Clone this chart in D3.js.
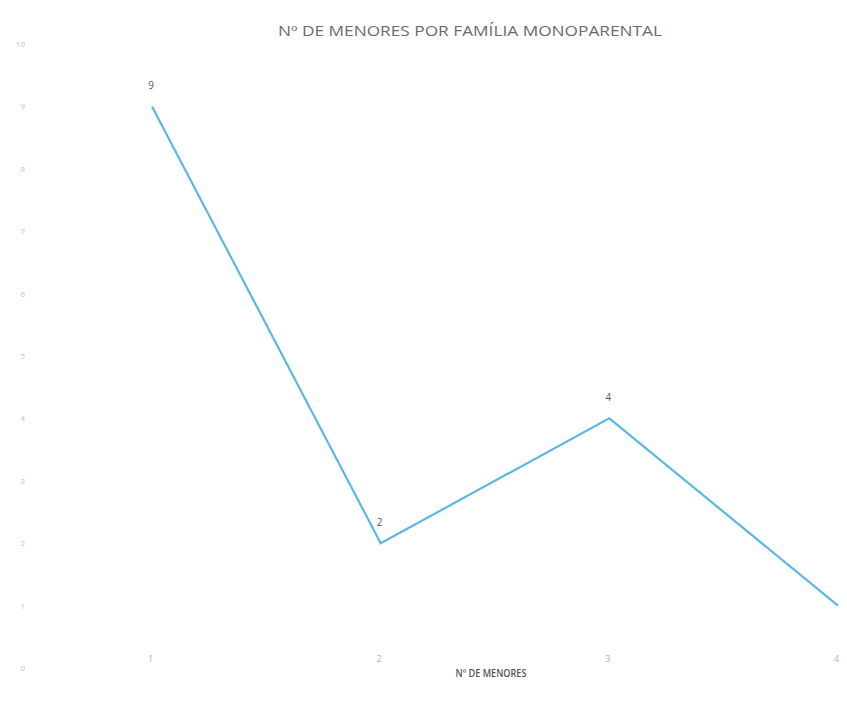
<!DOCTYPE html>
<html>
<head>
<meta charset="utf-8">
<script src="https://cdn.jsdelivr.net/npm/d3@7"></script>
<style>
  html, body { margin: 0; padding: 0; background: #fff; }
  svg { display: block; }
</style>
</head>
<body>
<svg id="chart" width="847" height="707"></svg>
<script>
// Number of children per single-parent family
const categories = [1, 2, 3, 4];
const values = [9, 2, 4, 1];
const labelled = [true, true, true, false];
const yTicks = [0, 1, 2, 3, 4, 5, 6, 7, 8, 9, 10];
const title = "Nº DE MENORES POR FAMÍLIA MONOPARENTAL";
const xTitle = "Nº DE MENORES";

const svg = d3.select("#chart");
const font = "'Open Sans', 'Liberation Sans', sans-serif";

const x = d3.scaleLinear().domain([1, 4]).range([152, 838]);
const y = d3.scaleLinear().domain([0, 10]).range([668, 44]);

// Title
svg.append("text")
  .attr("x", 470).attr("y", 36)
  .attr("text-anchor", "middle")
  .attr("font-family", font)
  .attr("font-size", 14)
  .attr("fill", "#6a6a6a")
  .attr("textLength", 384)
  .attr("lengthAdjust", "spacingAndGlyphs")
  .text(title);

// Y axis (labels only)
const yAxis = d3.axisLeft(y).tickValues(yTicks).tickFormat(d3.format("d")).tickSize(0).tickPadding(0);
svg.append("g")
  .attr("transform", "translate(25,0)")
  .call(yAxis)
  .call(g => g.select(".domain").remove())
  .call(g => g.selectAll("text")
    .attr("font-family", font)
    .attr("font-size", 8)
    .attr("fill", "#c4c4c4"));

// X axis (labels only)
const xAxis = d3.axisBottom(x).tickValues(categories).tickFormat(d3.format("d")).tickSize(0).tickPadding(0);
svg.append("g")
  .attr("transform", "translate(-2,656)")
  .call(xAxis)
  .call(g => g.select(".domain").remove())
  .call(g => g.selectAll("text")
    .attr("font-family", font)
    .attr("font-size", 9)
    .attr("fill", "#b0b0b0"));

// X axis title
svg.append("text")
  .attr("x", 491).attr("y", 677)
  .attr("text-anchor", "middle")
  .attr("font-family", font)
  .attr("font-size", 10)
  .attr("font-weight", 600)
  .attr("fill", "#555")
  .attr("textLength", 71)
  .attr("lengthAdjust", "spacingAndGlyphs")
  .text(xTitle);

// Line
const line = d3.line()
  .x((d, i) => x(categories[i]))
  .y(d => y(d));

svg.append("path")
  .datum(values)
  .attr("d", line)
  .attr("fill", "none")
  .attr("stroke", "#5bb8e0")
  .attr("stroke-width", 2.2)
  .attr("stroke-linejoin", "miter");

// Data labels
svg.selectAll("text.dl")
  .data(values.map((v, i) => ({ v, c: categories[i], show: labelled[i] })).filter(d => d.show))
  .enter().append("text")
  .attr("class", "dl")
  .attr("x", d => x(d.c) - 1)
  .attr("y", d => y(d.v) - 17)
  .attr("text-anchor", "middle")
  .attr("font-family", font)
  .attr("font-size", 10)
  .attr("fill", "#555")
  .text(d => d.v);
</script>
</body>
</html>
